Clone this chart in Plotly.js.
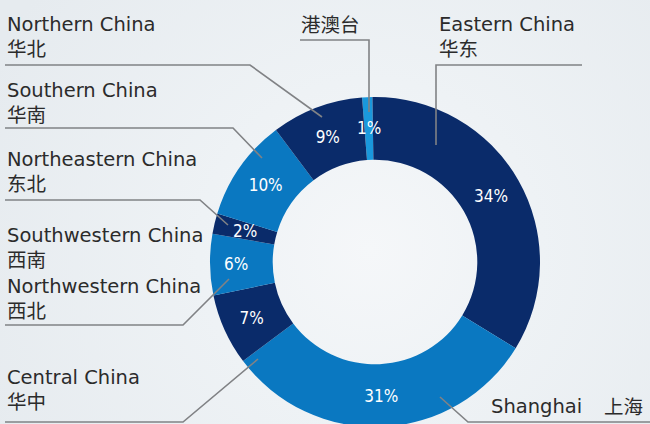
<!DOCTYPE html>
<html>
<head>
<meta charset="utf-8">
<script src="https://cdn.plot.ly/plotly-3.0.1.min.js"></script>
<style>
html,body{margin:0;padding:0;overflow:hidden;width:650px;height:424px;
  background:radial-gradient(circle at 370px 250px, #f5f7f9 0px, #eef2f5 170px, #e6ebef 420px);}
#chart{width:650px;height:430px;}
</style>
</head>
<body>
<div id="chart"></div>
<script>
// Data (clockwise from top)
const regionsEn = ['', 'Eastern China', 'Shanghai', 'Central China', 'Southwestern China / Northwestern China', 'Northeastern China', 'Southern China', 'Northern China'];
const regionsZh = ['港澳台', '华东', '上海', '华中', '西南 / 西北', '东北', '华南', '华北'];
const shares = [1, 34, 31, 7, 6, 2, 10, 9];

const DARK = '#0a2b6a', MID = '#0a78c1', LIGHT = '#1a98dc';
const sliceColors = [LIGHT, DARK, MID, DARK, MID, DARK, MID, DARK];

const W = 650, H = 430;
const px = x => x / W;
const py = y => 1 - y / H;

const labels = regionsEn.map((e, i) => (e ? e + ' ' : '') + regionsZh[i]);
const ROT = -4.5, HOLE = 0.62;
const CX = 375, CY = 262, R = 165;

// slices too narrow for inside text get their label at the slice's mid-angle instead
const total = shares.reduce((a, b) => a + b, 0);
const positions = shares.map(v => v / total * 100 >= 3 ? 'inside' : 'none');

const PCTFONT = {family: 'DejaVu Sans Condensed, Liberation Sans Narrow, sans-serif', size: 17, color: '#ffffff'};

const trace = {
  type: 'pie',
  labels: labels,
  values: shares,
  sort: false,
  direction: 'clockwise',
  rotation: ROT,
  hole: HOLE,
  marker: {colors: sliceColors, line: {width: 0}},
  texttemplate: '%{value}%',
  textposition: positions,
  insidetextorientation: 'horizontal',
  textfont: PCTFONT,
  domain: {x: [px(CX - R), px(CX + R)], y: [py(CY + R), py(CY - R)]},
  showlegend: false,
  hoverinfo: 'none'
};

const LAT = 'DejaVu Sans, sans-serif';
const TXT = '#2b2b2b';
const zh = s => '<span style="font-family:Noto Sans CJK SC">' + s + '</span>';

function ann(text, x, y) {
  return {xref: 'paper', yref: 'paper', x: px(x), y: py(y), xanchor: 'left', yanchor: 'middle', align: 'left',
          text: text, showarrow: false, borderpad: 0, borderwidth: 0,
          font: {family: LAT, size: 19.5, color: TXT}};
}

const annotations = [
  ann('Northern China<br>' + zh(regionsZh[7]), 7, 38),
  ann('Southern China<br>' + zh(regionsZh[6]), 7, 104),
  ann('Northeastern China<br>' + zh(regionsZh[5]), 7, 172),
  ann('Southwestern China<br>' + zh('西南') + '<br>Northwestern China<br>' + zh('西北'), 7, 274),
  ann('Central China<br>' + zh(regionsZh[3]), 7, 390.5),
  ann('Shanghai', 491, 406),
  ann(zh(regionsZh[2]), 604, 405),
  ann('Eastern China<br>' + zh(regionsZh[1]), 439, 38),
  ann(zh(regionsZh[0]), 301, 23)
];

// labels for thin slices, placed at their data-derived mid-angle on the mid-ring radius
let cum = 0;
shares.forEach((v, i) => {
  const frac = v / total;
  if (positions[i] === 'none') {
    const ang = (ROT + (cum + frac / 2) * 360) * Math.PI / 180;
    const rm = R * (1 + HOLE) / 2;
    annotations.push({xref: 'paper', yref: 'paper', x: px(CX + rm * Math.sin(ang)), y: py(CY - rm * Math.cos(ang)),
      xanchor: 'center', yanchor: 'middle', showarrow: false, text: v + '%', font: PCTFONT});
  }
  cum += frac;
});

function leader(pts) {
  let d = '';
  pts.forEach((p, i) => { d += (i ? ' L ' : 'M ') + px(p[0]) + ' ' + py(p[1]); });
  return {type: 'path', xref: 'paper', yref: 'paper', path: d,
          line: {color: '#808285', width: 1.6}};
}

const shapes = [
  leader([[5, 65], [250, 65], [322, 117]]),
  leader([[5, 128], [233, 128], [262, 158]]),
  leader([[5, 200], [200, 200], [228, 225]]),
  leader([[5, 325], [183, 325], [229, 279]]),
  leader([[5, 422], [183, 422], [258, 359]]),
  leader([[440, 397], [468, 422], [650, 422]]),
  leader([[582, 65], [436, 65], [436, 145]]),
  leader([[300, 40], [369, 40], [369, 112]])
];

const layout = {
  width: W, height: H,
  margin: {l: 0, r: 0, t: 0, b: 0},
  paper_bgcolor: 'rgba(0,0,0,0)',
  plot_bgcolor: 'rgba(0,0,0,0)',
  annotations: annotations,
  shapes: shapes
};

Plotly.newPlot('chart', [trace], layout, {displayModeBar: false, staticPlot: true});
</script>
</body>
</html>
